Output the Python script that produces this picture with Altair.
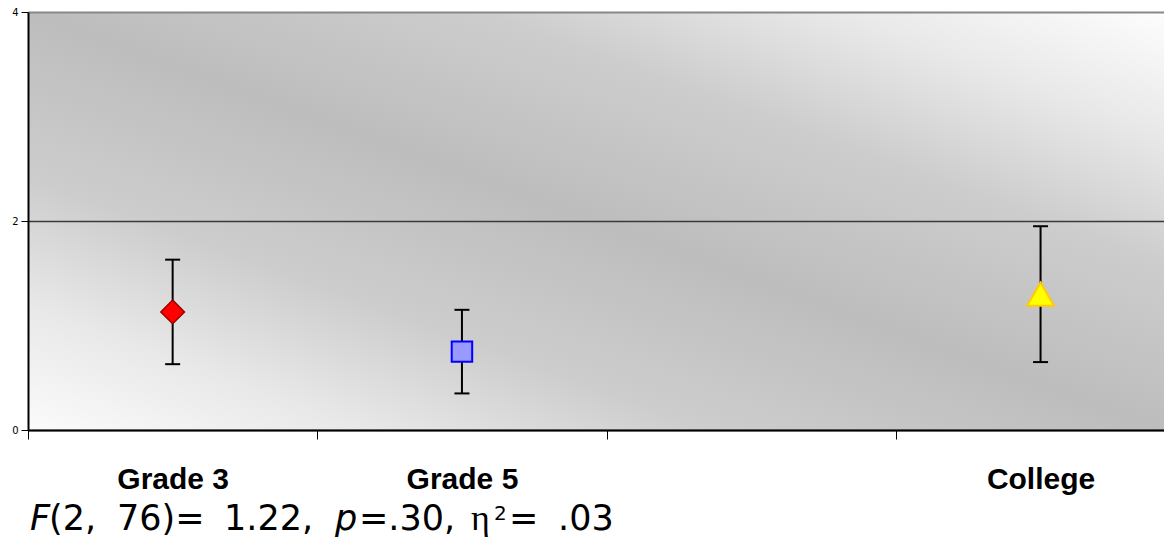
import altair as alt
import pandas as pd

# ---- data ----
categories = ["Grade 3", "Grade 5", "", "College"]   # category slots on the x axis
groups = ["Grade 3", "Grade 5", "College"]
means = [1.13, 0.75, 1.30]
errs = [0.50, 0.40, 0.65]
y_ticks = [0, 2, 4]

slots = [categories.index(g) + 0.5 for g in groups]
df = pd.DataFrame({
    "group": groups,
    "x": slots,
    "mean": means,
    "lo": [m - e for m, e in zip(means, errs)],
    "hi": [m + e for m, e in zip(means, errs)],
})

W, H = 1136, 418
XMAX = W / 289.3  # plot is cut at the right edge like the reference

marker_styles = {
    "Grade 3": dict(shape="diamond", fill="#ff0000", stroke="#990000", size=560, strokeWidth=1.5),
    "Grade 5": dict(shape="square", fill="#9999ff", stroke="#0000ff", size=420, strokeWidth=2),
    "College": dict(shape="triangle-up", fill="#ffff00", stroke="#ffcc00", size=720, strokeWidth=2),
}

label_expr = " : ".join(
    [f"datum.value == {i + 0.5} ? '{c}'" for i, c in enumerate(categories) if c]
) + " : ''"

x_scale = alt.Scale(domain=[0, XMAX], nice=False, zero=False)
y_scale = alt.Scale(domain=[0, 4], nice=False)

x_axis = alt.Axis(
    values=[0, 0.5, 1, 1.5, 2, 3, 3.5],
    labelExpr=label_expr,
    tickOpacity={"condition": {"test": "datum.value % 1 != 0", "value": 0}, "value": 1},
    tickSize=9, tickColor="black", tickWidth=1,
    domainColor="black", domainWidth=2,
    labelFont="Liberation Sans", labelFontWeight="bold", labelFontSize=30,
    labelColor="black", labelBaseline="alphabetic", labelPadding=49,
    labelOverlap=False, labelFlush=False, grid=False, title=None, zindex=1,
)
y_axis = alt.Axis(
    values=y_ticks, format="d", title=None,
    labelFont="DejaVu Sans", labelFontSize=10, labelColor="black", labelPadding=3,
    tickSize=7, tickColor="black", tickWidth=1,
    domainColor="black", domainWidth=2,
    grid=True,
    gridColor={"condition": {"test": "datum.value == 4", "value": "#888888"}, "value": "#3a3a3a"},
    gridWidth={"condition": {"test": "datum.value == 4", "value": 2}, "value": 1.5},
    zindex=1,
)

one = pd.DataFrame({"a": [0]})

gradient = alt.Gradient(
    gradient="linear",
    stops=[
        alt.GradientStop(color="#fbfbfb", offset=0),
        alt.GradientStop(color="#e8e8e8", offset=0.15),
        alt.GradientStop(color="#cdcdcd", offset=0.3),
        alt.GradientStop(color="#bdbdbd", offset=0.5),
        alt.GradientStop(color="#cdcdcd", offset=0.7),
        alt.GradientStop(color="#e8e8e8", offset=0.85),
        alt.GradientStop(color="#fdfdfd", offset=1),
    ],
    x1=0, y1=1, x2=1, y2=0,
)
bg = alt.Chart(one).mark_rect(fill=gradient, strokeWidth=0).encode(
    x=alt.value(0), x2=alt.value(W), y=alt.value(0), y2=alt.value(H)
)

base = alt.Chart(df)
bars = base.mark_rule(color="black", strokeWidth=2).encode(
    x=alt.X("x:Q", scale=x_scale, axis=x_axis),
    y=alt.Y("lo:Q", scale=y_scale, axis=y_axis),
    y2="hi:Q",
)
cap_lo = base.mark_rule(color="black", strokeWidth=2, xOffset=-7.5, x2Offset=7.5).encode(
    x="x:Q", x2="x:Q", y="lo:Q"
)
cap_hi = base.mark_rule(color="black", strokeWidth=2, xOffset=-7.5, x2Offset=7.5).encode(
    x="x:Q", x2="x:Q", y="hi:Q"
)

points = []
for g in groups:
    s = marker_styles[g]
    points.append(
        base.transform_filter(alt.datum.group == g)
        .mark_point(filled=True, opacity=1, shape=s["shape"], fill=s["fill"],
                    stroke=s["stroke"], size=s["size"], strokeWidth=s["strokeWidth"])
        .encode(x="x:Q", y="mean:Q")
    )

# statistics line under the chart (pieces placed to match the reference spacing)
BL = 518
stat_pieces = [
    ("F", 2, BL, 35, "italic", "DejaVu Sans"),
    ("(2,", 21, BL, 35, "normal", "DejaVu Sans"),
    ("76)=", 89, BL, 35, "normal", "DejaVu Sans"),
    ("1.22,", 196, BL, 35, "normal", "DejaVu Sans"),
    ("p", 307, BL, 35, "italic", "DejaVu Sans"),
    ("=.30,", 331, BL, 35, "normal", "DejaVu Sans"),
    ("η", 443, BL, 36, "normal", "Liberation Serif"),
    ("2", 466, BL - 10, 20, "normal", "DejaVu Sans"),
    ("=", 481, BL, 35, "normal", "DejaVu Sans"),
    (".03", 530, BL, 35, "normal", "DejaVu Sans"),
]
texts = []
for t, tx, ty, fs, st, fnt in stat_pieces:
    texts.append(
        alt.Chart(one).mark_text(text=t, font=fnt, fontSize=fs, fontStyle=st,
                                 align="left", baseline="alphabetic", color="black")
        .encode(x=alt.value(tx), y=alt.value(ty))
    )

chart = alt.layer(bg, bars, cap_lo, cap_hi, *points, *texts).properties(
    width=W, height=H, autosize="none",
    padding={"left": 20, "top": 4, "right": 0, "bottom": 107},
    background="white",
).configure_view(strokeWidth=0)

chart.save("out.html", embed_options={"renderer": "svg", "actions": False})
